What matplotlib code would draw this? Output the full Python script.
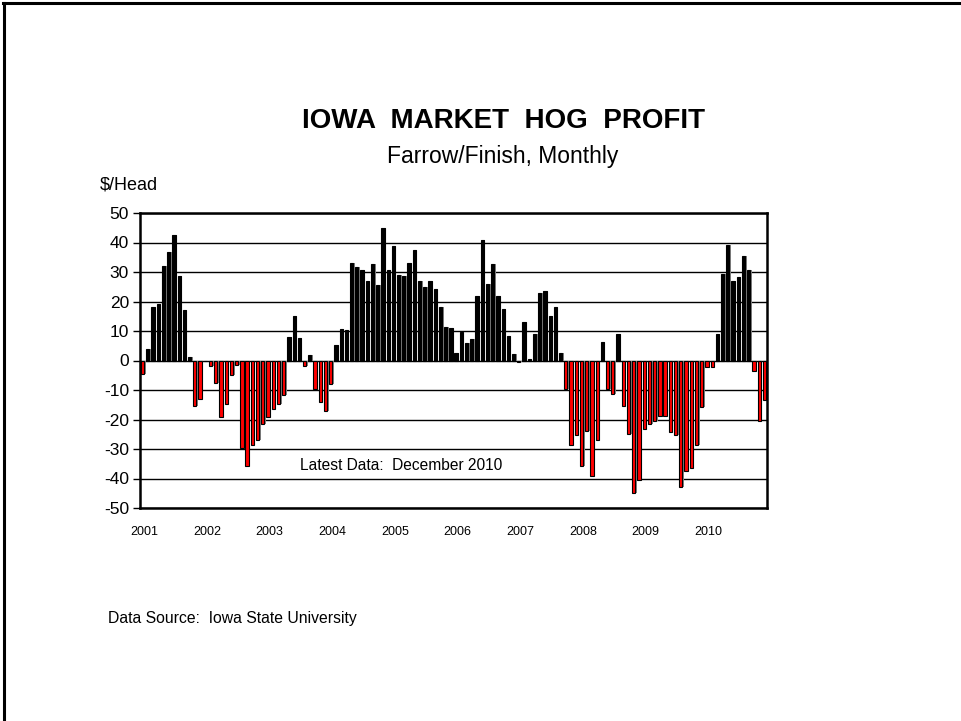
import matplotlib
matplotlib.use("Agg")
import matplotlib.pyplot as plt
import numpy as np

plt.rcParams['font.family'] = ['Liberation Sans', 'DejaVu Sans']

years = ['2001', '2002', '2003', '2004', '2005', '2006', '2007', '2008', '2009', '2010']

profit = [
    # 2001
    -4.7, 4.0, 18.0, 19.0, 32.2, 36.8, 42.5, 28.6, 17.0, 1.2, -15.4, -13.0,
    # 2002
    0.0, -1.9, -7.6, -19.2, -14.6, -4.8, -1.4, -29.6, -35.7, -28.7, -26.8, -21.5,
    # 2003
    -19.2, -16.6, -14.8, -11.8, 8.0, 15.0, 7.5, -1.9, 1.7, -9.8, -14.2, -17.0,
    # 2004
    -7.9, 5.3, 10.7, 10.2, 33.0, 31.7, 30.7, 26.8, 32.6, 25.6, 45.0, 30.7,
    # 2005
    38.8, 29.0, 28.8, 33.0, 37.3, 26.8, 24.8, 26.8, 24.4, 18.2, 11.3, 11.0,
    # 2006
    2.6, 9.6, 6.0, 7.2, 22.0, 40.8, 26.0, 32.6, 22.0, 17.4, 8.2, 2.1,
    # 2007
    -0.5, 13.0, 0.5, 9.1, 23.0, 23.6, 15.0, 18.2, 2.5, -9.7, -28.8, -25.2,
    # 2008
    -35.7, -23.9, -39.2, -26.8, 6.4, -9.6, -11.2, 9.1, -15.4, -24.8, -45.0, -40.4,
    # 2009
    -23.3, -21.5, -20.4, -18.7, -18.7, -24.4, -25.4, -42.8, -37.5, -36.3, -28.7, -15.8,
    # 2010
    -2.3, -2.3, 9.1, 29.4, 39.2, 27.1, 28.4, 35.5, 30.7, -3.6, -20.5, -13.5,
]

yticks = [-50, -40, -30, -20, -10, 0, 10, 20, 30, 40, 50]

fig = plt.figure(figsize=(9.61, 7.21), dpi=100)

# page border (top and left)
fig.add_artist(plt.Line2D([0.004, 0.004], [0, 0.996], color='black', lw=2.2,
                          transform=fig.transFigure))
fig.add_artist(plt.Line2D([0.003, 1.0], [0.9955, 0.9955], color='black', lw=2.2,
                          transform=fig.transFigure))

ax = fig.add_axes([140/961, 1-508/721, (767-140)/961, (508-213)/721])

vals = np.array(profit)
x = np.arange(len(vals))
colors = ['black' if v >= 0 else '#FF0000' for v in vals]
# shadow bars (gray) to mimic 3D look
ax.bar(x + 0.28, vals, width=0.62, color='#808080', edgecolor='none', zorder=2)
ax.bar(x, vals, width=0.62, color=colors, edgecolor='black', linewidth=0.8, zorder=3)

ax.set_xlim(-0.5, len(vals) - 0.5)
ax.set_ylim(-50, 50)
ax.set_yticks(yticks)
ax.set_yticklabels([str(t) for t in yticks], fontsize=12.5)
ax.set_xticks(np.arange(len(years)) * 12 + 0.3)
ax.set_xticklabels(years, fontsize=9)
ax.tick_params(axis='x', length=0, pad=13)
ax.tick_params(axis='y', length=5, width=1, direction='out', pad=3)
ax.yaxis.grid(True, color='black', linewidth=1.0, zorder=1)
ax.set_axisbelow(True)
for s in ax.spines.values():
    s.set_linewidth(1.8)
    s.set_zorder(4)

ax.text((300-140)/627, (508-465)/295, 'Latest Data:  December 2010', transform=ax.transAxes,
        fontsize=11.2, ha='left', va='center', zorder=5)

fig.text(503/961, 1-121/721, 'IOWA  MARKET  HOG  PROFIT', fontsize=20,
         fontweight='bold', ha='center', va='center')
fig.text(503/961, 1-157/721, 'Farrow/Finish, Monthly', fontsize=16.5,
         ha='center', va='center')
fig.text(100/961, 1-185/721, '$/Head', fontsize=13, ha='left', va='center')
fig.text(108/961, 1-619/721, 'Data Source:  Iowa State University', fontsize=11.3,
         ha='left', va='center')

fig.savefig('out.png', dpi=100)
